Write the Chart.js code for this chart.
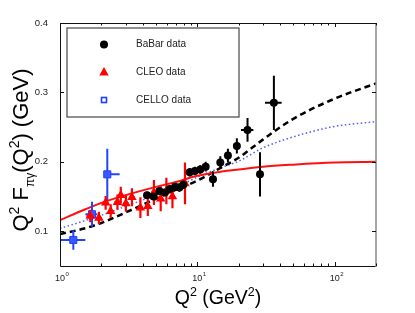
<!DOCTYPE html>
<html>
<head>
<meta charset="utf-8">
<script src="https://cdn.jsdelivr.net/npm/chart.js@4.4.0/dist/chart.umd.min.js"></script>
<style>
  html, body { margin: 0; padding: 0; background: #fff; }
  #wrap { width: 415px; height: 313px; }
</style>
</head>
<body>
<div id="wrap"><canvas id="chart" width="415" height="313"></canvas></div>
<script>
// BaBar data
const babarQ2    = [4.3, 4.8, 5.3, 5.8, 6.3, 6.9, 7.4, 7.9, 8.8, 9.6, 10.5, 11.5, 13.0, 14.7, 16.7, 19.4, 23.2, 28.6, 36.1];
const babarF     = [0.152, 0.150, 0.158, 0.156, 0.161, 0.164, 0.163, 0.167, 0.185, 0.187, 0.189, 0.193, 0.175, 0.199, 0.209, 0.223, 0.246, 0.182, 0.285];
const babarErr   = [0.005, 0.005, 0.005, 0.005, 0.005, 0.005, 0.006, 0.006, 0.006, 0.006, 0.006, 0.007, 0.011, 0.009, 0.010, 0.011, 0.017, 0.032, 0.039];
const babarQ2Err = [0.15, 0.15, 0.15, 0.2, 0.2, 0.2, 0.2, 0.25, 0.25, 0.3, 0.3, 0.35, 0.4, 0.45, 0.5, 0.6, 2.4, 0.6, 5.0];

// CLEO data
const cleoQ2    = [1.66, 1.92, 2.15, 2.34, 2.62, 2.77, 3.02, 3.34, 3.85, 4.36, 4.83, 5.41, 5.95, 6.59, 8.13];
const cleoF     = [0.122, 0.119, 0.141, 0.129, 0.142, 0.152, 0.140, 0.149, 0.134, 0.136, 0.156, 0.147, 0.158, 0.150, 0.169];
const cleoErr   = [0.009, 0.009, 0.010, 0.010, 0.011, 0.012, 0.012, 0.013, 0.015, 0.014, 0.018, 0.018, 0.019, 0.017, 0.030];
const cleoQ2Err = [0.1, 0.1, 0.1, 0.1, 0.12, 0.12, 0.13, 0.14, 0.16, 0.18, 0.2, 0.22, 0.25, 0.27, 0.33];

// CELLO data
const celloQ2   = [1.25, 1.71, 2.21];
const celloF    = [0.0875, 0.1245, 0.182];
const celloErr  = [0.014, 0.018, 0.037];
const celloQ2Lo = [1.0, 1.53, 2.08];
const celloQ2Hi = [1.53, 1.87, 2.72];

// theory curves
const curveQ2    = [1, 1.5, 2, 3, 5, 7, 10, 15, 20, 30, 50, 100, 200];
const redCurve   = [0.116, 0.131, 0.141, 0.152, 0.164, 0.171, 0.180, 0.186, 0.189, 0.193, 0.196, 0.199, 0.200];
const dashCurve  = [0.096, 0.104, 0.112, 0.127, 0.147, 0.160, 0.173, 0.192, 0.206, 0.232, 0.262, 0.291, 0.313];
const dotCurve   = [0.104, 0.115, 0.123, 0.136, 0.152, 0.163, 0.178, 0.192, 0.201, 0.220, 0.236, 0.251, 0.258];

// axes
const yTicks      = [0.1, 0.2, 0.3, 0.4];
const xMajor      = [1, 10, 100];
const xMajorExp   = ['0', '1', '2'];
const xMinor      = [2, 3, 4, 5, 6, 7, 8, 9, 20, 30, 40, 50, 60, 70, 80, 90, 200];
const legendNames = ['BaBar data', 'CLEO data', 'CELLO data'];

const FONT = '"Liberation Sans", Arial, Helvetica, sans-serif';

function pts(xs, ys) { return xs.map((v, i) => ({ x: v, y: ys[i] })); }

const errorBars = {
  id: 'errorBars',
  beforeDatasetDraw(chart, args) {
    const ds = chart.data.datasets[args.index];
    if (!ds.bars) return;
    const { ctx, chartArea: a, scales: { x, y } } = chart;
    const b = ds.bars;
    ctx.save();
    ctx.beginPath();
    ctx.rect(a.left, a.top, a.right - a.left, a.bottom - a.top);
    ctx.clip();
    ctx.strokeStyle = b.color;
    ctx.lineWidth = b.width;
    ds.data.forEach((p, i) => {
      const px = x.getPixelForValue(p.x), py = y.getPixelForValue(p.y);
      ctx.beginPath();
      ctx.moveTo(px, y.getPixelForValue(p.y - b.yErr[i]));
      ctx.lineTo(px, y.getPixelForValue(p.y + b.yErr[i]));
      ctx.moveTo(x.getPixelForValue(b.xLo[i]), py);
      ctx.lineTo(x.getPixelForValue(b.xHi[i]), py);
      ctx.stroke();
    });
    ctx.restore();
  }
};

// draws pieces of text with super/subscripts along a baseline, centred on 0
function richText(ctx, parts) {
  let w = 0;
  parts.forEach(p => { ctx.font = p.s + 'px ' + FONT; w += ctx.measureText(p.t).width; });
  let cx = -w / 2;
  parts.forEach(p => {
    ctx.font = p.s + 'px ' + FONT;
    ctx.fillText(p.t, cx, p.dy || 0);
    cx += ctx.measureText(p.t).width;
  });
  return w;
}

const frame = {
  id: 'frame',
  afterDraw(chart) {
    const { ctx, chartArea: a, scales: { x, y } } = chart;
    ctx.save();
    // box
    ctx.lineWidth = 1;
    ctx.strokeStyle = '#111';
    ctx.beginPath();
    ctx.moveTo(a.right, a.top + 0.5); ctx.lineTo(a.left + 0.5, a.top + 0.5);
    ctx.lineTo(a.left + 0.5, a.bottom + 0.5); ctx.lineTo(a.right, a.bottom + 0.5);
    ctx.stroke();
    ctx.strokeStyle = '#8a8a8a';
    ctx.lineWidth = 1.5;
    ctx.beginPath();
    ctx.moveTo(a.right, a.top); ctx.lineTo(a.right, a.bottom + 1);
    ctx.stroke();

    // inward ticks
    ctx.strokeStyle = '#111';
    ctx.lineWidth = 1;
    ctx.beginPath();
    xMajor.concat(xMinor).forEach(v => {
      const px = Math.round(x.getPixelForValue(v)) + 0.5;
      const len = xMajor.includes(v) ? 4 : 2.5;
      ctx.moveTo(px, a.bottom); ctx.lineTo(px, a.bottom - len);
      ctx.moveTo(px, a.top); ctx.lineTo(px, a.top + len);
    });
    yTicks.forEach(v => {
      const py = Math.round(y.getPixelForValue(v)) + 0.5;
      ctx.moveTo(a.left, py); ctx.lineTo(a.left + 4, py);
      ctx.moveTo(a.right, py); ctx.lineTo(a.right - 4, py);
    });
    ctx.stroke();

    // x tick labels 10^n
    ctx.fillStyle = '#222';
    ctx.textBaseline = 'alphabetic';
    xMajor.forEach((v, i) => {
      const px = x.getPixelForValue(v);
      ctx.font = '9px ' + FONT;
      ctx.textAlign = 'center';
      ctx.fillText('10', px, a.bottom + 15);
      const w = ctx.measureText('10').width;
      ctx.font = '6px ' + FONT;
      ctx.textAlign = 'left';
      ctx.fillText(xMajorExp[i], px + w / 2 + 0.5, a.bottom + 10);
    });

    // axis titles
    ctx.fillStyle = '#000';
    ctx.textAlign = 'left';
    ctx.save();
    ctx.translate((a.left + a.right) / 2, 304);
    richText(ctx, [
      { t: 'Q', s: 19.5 }, { t: '2', s: 12.5, dy: -8 },
      { t: ' (GeV', s: 19.5 }, { t: '2', s: 12.5, dy: -8 }, { t: ')', s: 19.5 }
    ]);
    ctx.restore();
    ctx.save();
    ctx.translate(28, 150);
    ctx.rotate(-Math.PI / 2);
    richText(ctx, [
      { t: 'Q', s: 22 }, { t: '2', s: 14, dy: -9 },
      { t: ' F', s: 22 }, { t: 'πγ', s: 12, dy: 6 },
      { t: '(Q', s: 22 }, { t: '2', s: 14, dy: -9 },
      { t: ') (GeV)', s: 22 }
    ]);
    ctx.restore();

    // legend
    const lx = 67, ly = 28, lw = 172, lh = 89;
    ctx.fillStyle = '#fff';
    ctx.fillRect(lx, ly, lw, lh);
    ctx.strokeStyle = '#555';
    ctx.lineWidth = 1.3;
    ctx.strokeRect(lx, ly, lw, lh);
    const rows = [44.5, 72, 100];
    ctx.font = '10px ' + FONT;
    ctx.fillStyle = '#222';
    ctx.textBaseline = 'middle';
    legendNames.forEach((n, i) => ctx.fillText(n, 136, rows[i]));
    ctx.fillStyle = '#000';
    ctx.beginPath(); ctx.arc(104, rows[0], 4, 0, Math.PI * 2); ctx.fill();
    ctx.fillStyle = '#ff0000';
    ctx.beginPath();
    ctx.moveTo(104, rows[1] - 5); ctx.lineTo(108.7, rows[1] + 3.5); ctx.lineTo(99.3, rows[1] + 3.5);
    ctx.closePath(); ctx.fill();
    ctx.strokeStyle = '#1f3fff';
    ctx.lineWidth = 1.6;
    ctx.strokeRect(101.5, rows[2] - 2.5, 5, 5);
    ctx.restore();
  }
};

new Chart(document.getElementById('chart'), {
  type: 'scatter',
  data: {
    datasets: [
      {
        label: 'BaBar data',
        data: pts(babarQ2, babarF),
        pointStyle: 'circle', pointRadius: 4,
        backgroundColor: '#000', borderColor: '#000', borderWidth: 0,
        bars: { color: '#000', width: 2,
          yErr: babarErr,
          xLo: babarQ2.map((v, i) => v - babarQ2Err[i]),
          xHi: babarQ2.map((v, i) => v + babarQ2Err[i]) }
      },
      {
        label: 'CLEO data',
        data: pts(cleoQ2, cleoF),
        pointStyle: 'triangle', pointRadius: 5.5,
        backgroundColor: '#ff0000', borderColor: '#ff0000', borderWidth: 0,
        bars: { color: '#ff0000', width: 2.2,
          yErr: cleoErr,
          xLo: cleoQ2.map((v, i) => v - cleoQ2Err[i]),
          xHi: cleoQ2.map((v, i) => v + cleoQ2Err[i]) }
      },
      {
        label: 'CELLO data',
        data: pts(celloQ2, celloF),
        pointStyle: 'rect', pointRadius: 5,
        backgroundColor: '#3a58ff', borderColor: '#1f3fff', borderWidth: 1,
        bars: { color: '#2244ff', width: 2,
          yErr: celloErr, xLo: celloQ2Lo, xHi: celloQ2Hi }
      },
      {
        data: pts(curveQ2, redCurve), showLine: true, pointRadius: 0,
        borderColor: '#ff1010', borderWidth: 2, cubicInterpolationMode: 'monotone'
      },
      {
        data: pts(curveQ2, dashCurve), showLine: true, pointRadius: 0,
        borderColor: '#000', borderWidth: 2.5, borderDash: [6, 4], cubicInterpolationMode: 'monotone'
      },
      {
        data: pts(curveQ2, dotCurve), showLine: true, pointRadius: 0,
        borderColor: '#4d5ff0', borderWidth: 1.5, borderDash: [1.5, 2.5], cubicInterpolationMode: 'monotone'
      }
    ]
  },
  options: {
    responsive: false,
    animation: false,
    devicePixelRatio: 1,
    layout: { padding: { left: 0, right: 39, top: 23, bottom: 0 } },
    plugins: { legend: { display: false }, tooltip: { enabled: false } },
    scales: {
      x: {
        type: 'logarithmic', min: 1, max: 200,
        grid: { display: false }, border: { display: false },
        ticks: { display: false },
        afterFit: s => { s.height = 47; }
      },
      y: {
        min: 0.05, max: 0.4,
        grid: { display: false }, border: { display: false },
        afterBuildTicks: s => { s.ticks = yTicks.map(v => ({ value: v })); },
        ticks: {
          padding: 4, color: '#222',
          font: { family: FONT, size: 9.5 },
          callback: v => v.toFixed(1)
        },
        afterFit: s => { s.width = 60; }
      }
    }
  },
  plugins: [errorBars, frame]
});
</script>
</body>
</html>
